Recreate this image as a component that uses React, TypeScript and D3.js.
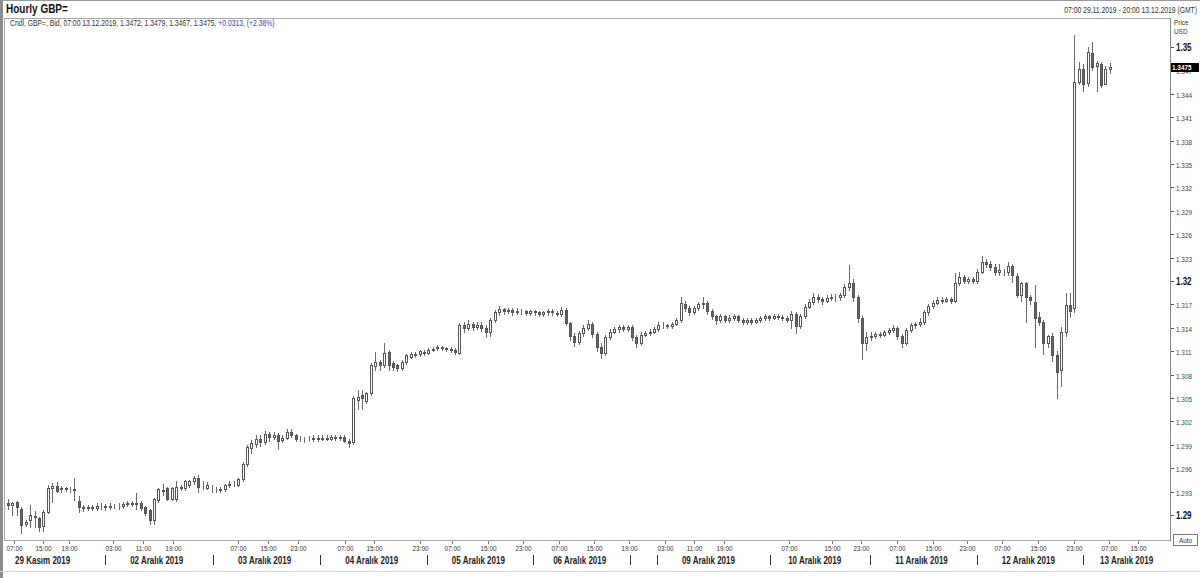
import React from 'react';
import * as d3 from 'd3';

const opens = [
  1.2916,1.2913,1.2917,1.2908,1.2888,1.2894,1.2899,1.2896,1.2886,1.2904,
  1.2935,1.2937,1.2933,1.2934,1.2933,1.2933,1.2918,1.2910,1.2909,1.2910,
  1.2909,1.2912,1.2911,1.2910,1.2911,1.2912,1.2911,1.2914,1.2915,1.2914,
  1.2916,1.2910,1.2906,1.2893,1.2919,1.2932,1.2934,1.2921,1.2920,1.2935,
  1.2934,1.2938,1.2943,1.2948,1.2938,1.2935,1.2935,1.2933,1.2933,1.2933,
  1.2938,1.2940,1.2939,1.2946,1.2966,1.2986,1.2991,1.2998,1.2994,1.3004,
  1.3000,1.3003,1.2996,1.2999,1.3006,1.3002,1.2997,1.2998,1.2997,1.2998,
  1.2999,1.2998,1.2999,1.2998,1.3000,1.2999,1.3000,1.2995,1.2993,1.3047,
  1.3054,1.3046,1.3056,1.3091,1.3096,1.3092,1.3109,1.3095,1.3092,1.3088,
  1.3096,1.3103,1.3105,1.3106,1.3109,1.3108,1.3112,1.3114,1.3115,1.3114,
  1.3113,1.3112,1.3108,1.3143,1.3140,1.3145,1.3141,1.3144,1.3140,1.3135,
  1.3150,1.3160,1.3164,1.3161,1.3163,1.3160,1.3162,1.3161,1.3159,1.3161,
  1.3160,1.3158,1.3160,1.3162,1.3159,1.3158,1.3163,1.3146,1.3130,1.3122,
  1.3133,1.3140,1.3145,1.3132,1.3115,1.3108,1.3128,1.3135,1.3138,1.3141,
  1.3139,1.3141,1.3128,1.3120,1.3131,1.3133,1.3135,1.3138,1.3144,1.3143,
  1.3142,1.3145,1.3150,1.3170,1.3165,1.3160,1.3165,1.3170,1.3172,1.3162,
  1.3155,1.3150,1.3155,1.3150,1.3153,1.3155,1.3150,1.3148,1.3150,1.3148,
  1.3150,1.3152,1.3155,1.3153,1.3155,1.3154,1.3152,1.3150,1.3158,1.3142,
  1.3155,1.3167,1.3173,1.3180,1.3177,1.3175,1.3178,1.3180,1.3179,1.3182,
  1.3192,1.3198,1.3180,1.3152,1.3120,1.3128,1.3130,1.3132,1.3131,1.3134,
  1.3137,1.3140,1.3130,1.3120,1.3137,1.3143,1.3145,1.3147,1.3160,1.3168,
  1.3172,1.3176,1.3175,1.3177,1.3175,1.3198,1.3205,1.3200,1.3202,1.3200,
  1.3212,1.3225,1.3222,1.3218,1.3212,1.3212,1.3211,1.3219,1.3207,1.3182,
  1.3197,1.3179,1.3173,1.3154,1.3147,1.3120,1.3130,1.3105,1.3086,1.3135,
  1.3169,1.3165,1.3455,1.3472,1.3454,1.3492,1.3476,1.3478,1.3453,1.3472,
];

const highs = [
  1.2920,1.2917,1.2918,1.2910,1.2893,1.2913,1.2905,1.2898,1.2906,1.2938,
  1.2941,1.2942,1.2937,1.2936,1.2936,1.2947,1.2924,1.2913,1.2913,1.2913,
  1.2915,1.2915,1.2914,1.2915,1.2914,1.2915,1.2917,1.2918,1.2918,1.2928,
  1.2918,1.2912,1.2908,1.2922,1.2935,1.2940,1.2936,1.2936,1.2943,1.2939,
  1.2945,1.2945,1.2950,1.2951,1.2943,1.2942,1.2938,1.2936,1.2936,1.2940,
  1.2943,1.2944,1.2948,1.2968,1.2990,1.2996,1.3002,1.3003,1.3008,1.3007,
  1.3006,1.3005,1.3002,1.3010,1.3010,1.3004,1.3001,1.3000,1.3001,1.3002,
  1.3002,1.3003,1.3002,1.3002,1.3002,1.3003,1.3002,1.2997,1.3053,1.3060,
  1.3060,1.3058,1.3095,1.3109,1.3099,1.3121,1.3112,1.3098,1.3094,1.3099,
  1.3107,1.3109,1.3109,1.3112,1.3112,1.3114,1.3116,1.3118,1.3117,1.3116,
  1.3115,1.3114,1.3146,1.3148,1.3150,1.3147,1.3147,1.3147,1.3143,1.3153,
  1.3163,1.3168,1.3166,1.3166,1.3165,1.3165,1.3164,1.3163,1.3163,1.3163,
  1.3162,1.3162,1.3164,1.3164,1.3162,1.3167,1.3165,1.3148,1.3133,1.3136,
  1.3143,1.3150,1.3147,1.3134,1.3120,1.3131,1.3138,1.3141,1.3144,1.3144,
  1.3144,1.3143,1.3131,1.3134,1.3136,1.3138,1.3141,1.3147,1.3147,1.3145,
  1.3148,1.3153,1.3180,1.3175,1.3168,1.3168,1.3173,1.3180,1.3174,1.3164,
  1.3157,1.3158,1.3157,1.3156,1.3158,1.3157,1.3153,1.3153,1.3152,1.3153,
  1.3155,1.3158,1.3157,1.3158,1.3158,1.3157,1.3155,1.3161,1.3160,1.3158,
  1.3170,1.3177,1.3185,1.3183,1.3180,1.3182,1.3183,1.3183,1.3185,1.3196,
  1.3220,1.3203,1.3182,1.3155,1.3135,1.3135,1.3135,1.3135,1.3137,1.3140,
  1.3143,1.3142,1.3132,1.3140,1.3146,1.3148,1.3152,1.3163,1.3171,1.3176,
  1.3179,1.3180,1.3180,1.3180,1.3210,1.3212,1.3208,1.3205,1.3205,1.3215,
  1.3232,1.3228,1.3226,1.3222,1.3222,1.3215,1.3224,1.3222,1.3210,1.3199,
  1.3199,1.3182,1.3195,1.3160,1.3150,1.3131,1.3133,1.3110,1.3141,1.3185,
  1.3185,1.3515,1.3481,1.3478,1.3500,1.3507,1.3482,1.3481,1.3476,1.3479,
];

const lows = [
  1.2908,1.2900,1.2900,1.2877,1.2886,1.2885,1.2885,1.2880,1.2880,1.2902,
  1.2917,1.2930,1.2930,1.2931,1.2930,1.2919,1.2904,1.2905,1.2906,1.2906,
  1.2907,1.2908,1.2907,1.2908,1.2909,1.2908,1.2909,1.2911,1.2911,1.2908,
  1.2906,1.2900,1.2889,1.2889,1.2917,1.2926,1.2919,1.2919,1.2918,1.2932,
  1.2932,1.2936,1.2940,1.2930,1.2933,1.2933,1.2930,1.2930,1.2930,1.2931,
  1.2936,1.2937,1.2937,1.2944,1.2963,1.2980,1.2987,1.2988,1.2991,1.2995,
  1.2997,1.2985,1.2993,1.2997,1.3000,1.2995,1.2995,1.2994,1.2995,1.2995,
  1.2995,1.2996,1.2996,1.2996,1.2996,1.2996,1.2993,1.2987,1.2991,1.3036,
  1.3036,1.3044,1.3054,1.3086,1.3086,1.3090,1.3086,1.3086,1.3085,1.3086,
  1.3094,1.3101,1.3102,1.3104,1.3105,1.3106,1.3110,1.3112,1.3111,1.3110,
  1.3109,1.3106,1.3106,1.3135,1.3137,1.3137,1.3138,1.3136,1.3128,1.3130,
  1.3148,1.3157,1.3158,1.3159,1.3157,1.3158,1.3158,1.3156,1.3157,1.3157,
  1.3155,1.3155,1.3157,1.3157,1.3155,1.3155,1.3143,1.3125,1.3117,1.3119,
  1.3130,1.3137,1.3128,1.3110,1.3101,1.3105,1.3126,1.3133,1.3135,1.3136,
  1.3136,1.3124,1.3115,1.3118,1.3129,1.3131,1.3133,1.3136,1.3140,1.3140,
  1.3140,1.3143,1.3148,1.3162,1.3157,1.3158,1.3163,1.3166,1.3158,1.3151,
  1.3145,1.3148,1.3147,1.3148,1.3150,1.3147,1.3145,1.3145,1.3145,1.3146,
  1.3148,1.3150,1.3150,1.3151,1.3151,1.3150,1.3147,1.3140,1.3133,1.3140,
  1.3153,1.3165,1.3170,1.3173,1.3171,1.3173,1.3176,1.3175,1.3176,1.3180,
  1.3189,1.3175,1.3148,1.3100,1.3112,1.3125,1.3127,1.3128,1.3129,1.3132,
  1.3135,1.3126,1.3115,1.3118,1.3135,1.3140,1.3142,1.3145,1.3157,1.3165,
  1.3170,1.3172,1.3173,1.3172,1.3173,1.3195,1.3197,1.3197,1.3197,1.3198,
  1.3210,1.3218,1.3214,1.3208,1.3208,1.3208,1.3208,1.3199,1.3180,1.3175,
  1.3147,1.3170,1.3115,1.3143,1.3107,1.3115,1.3098,1.3050,1.3066,1.3130,
  1.3154,1.3160,1.3452,1.3443,1.3450,1.3470,1.3443,1.3449,1.3452,1.3467,
];

const closes = [
  1.2913,1.2915,1.2910,1.2887,1.2891,1.2900,1.2897,1.2885,1.2904,1.2935,
  1.2937,1.2931,1.2934,1.2933,1.2933,1.2932,1.2910,1.2909,1.2910,1.2909,
  1.2912,1.2911,1.2910,1.2911,1.2912,1.2911,1.2914,1.2915,1.2914,1.2916,
  1.2909,1.2903,1.2893,1.2920,1.2933,1.2931,1.2921,1.2934,1.2936,1.2936,
  1.2943,1.2943,1.2947,1.2936,1.2939,1.2939,1.2934,1.2933,1.2932,1.2938,
  1.2940,1.2940,1.2946,1.2966,1.2987,1.2992,1.2998,1.2993,1.3004,1.3000,
  1.3003,1.2995,1.2999,1.3006,1.3003,1.2997,1.2998,1.2997,1.2998,1.2999,
  1.2998,1.2999,1.2998,1.3000,1.2999,1.3000,1.2995,1.2992,1.3050,1.3051,
  1.3050,1.3056,1.3092,1.3096,1.3092,1.3108,1.3092,1.3090,1.3088,1.3096,
  1.3105,1.3107,1.3106,1.3110,1.3108,1.3112,1.3113,1.3115,1.3114,1.3113,
  1.3112,1.3109,1.3143,1.3140,1.3145,1.3141,1.3144,1.3140,1.3135,1.3150,
  1.3160,1.3164,1.3161,1.3163,1.3160,1.3162,1.3161,1.3159,1.3161,1.3160,
  1.3158,1.3160,1.3162,1.3160,1.3158,1.3163,1.3146,1.3130,1.3122,1.3133,
  1.3140,1.3145,1.3132,1.3115,1.3108,1.3128,1.3135,1.3138,1.3141,1.3139,
  1.3141,1.3128,1.3120,1.3131,1.3133,1.3135,1.3138,1.3144,1.3143,1.3142,
  1.3145,1.3150,1.3172,1.3165,1.3160,1.3165,1.3170,1.3172,1.3162,1.3155,
  1.3150,1.3155,1.3150,1.3153,1.3155,1.3150,1.3148,1.3150,1.3148,1.3150,
  1.3152,1.3155,1.3153,1.3155,1.3154,1.3152,1.3150,1.3158,1.3142,1.3155,
  1.3167,1.3173,1.3180,1.3177,1.3175,1.3178,1.3180,1.3179,1.3182,1.3192,
  1.3198,1.3180,1.3152,1.3120,1.3128,1.3130,1.3132,1.3131,1.3134,1.3137,
  1.3140,1.3130,1.3120,1.3137,1.3143,1.3145,1.3147,1.3160,1.3168,1.3172,
  1.3176,1.3175,1.3177,1.3175,1.3198,1.3205,1.3200,1.3202,1.3200,1.3212,
  1.3225,1.3222,1.3218,1.3212,1.3214,1.3211,1.3219,1.3208,1.3182,1.3197,
  1.3180,1.3176,1.3152,1.3147,1.3120,1.3129,1.3105,1.3083,1.3135,1.3169,
  1.3162,1.3455,1.3472,1.3453,1.3493,1.3474,1.3480,1.3451,1.3472,1.3475,
];

const yTickValues = [
  1.29, 1.293, 1.296, 1.299, 1.302, 1.305, 1.308, 1.311, 1.314, 1.317, 1.32,
  1.323, 1.326, 1.329, 1.332, 1.335, 1.338, 1.341, 1.344, 1.347, 1.35,
];
const yMajorTicks = [1.29, 1.32, 1.35];

const timeTickIndex = [
  1.4, 7.9, 13.8, 23.7, 30.5, 37.3, 52, 58.8, 65.5, 76.2, 82.7, 93.1, 100.3,
  108.5, 116.4, 124.6, 132.4, 140.3, 148.5, 155, 161.8, 176.5, 186.2, 192.8,
  200.9, 209, 216.7, 224.6, 232.8, 240.9, 248.8, 255.4,
];
const timeTickLabels = [
  '07:00', '15:00', '19:00', '03:00', '11:00', '19:00', '07:00', '15:00', '23:00',
  '07:00', '15:00', '23:00', '07:00', '15:00', '23:00', '07:00', '15:00', '19:00',
  '03:00', '11:00', '19:00', '07:00', '15:00', '23:00', '07:00', '15:00', '23:00',
  '07:00', '15:00', '23:00', '07:00', '15:00',
];

const dayLabelIndex = [1.6, 27.6, 52, 76.2, 100.3, 123.2, 152.3, 176.3, 200.5, 224.6, 246.8];
const dayLabels = [
  '29 Kasım 2019', '02 Aralık 2019', '03 Aralık 2019', '04 Aralık 2019',
  '05 Aralık 2019', '06 Aralık 2019', '09 Aralık 2019', '10 Aralık 2019',
  '11 Aralık 2019', '12 Aralık 2019', '13 Aralık 2019',
];
const daySeparatorIndex = [21.9, 46.3, 70.5, 94.7, 118.6, 140.6, 146.7, 172.2, 194.8, 219, 242.9];

const titleText = 'Hourly GBP=';
const legendText = 'Cndl, GBP=, Bid, 07:00 13.12.2019, 1.3472, 1.3479, 1.3467, 1.3475, ';
const legendChange = '+0.0313, (+2.38%)';
const rangeText = '07:00 29.11.2019 - 20:00 13.12.2019 (GMT)';
const lastPrice = 1.3475;

const FONT = '"Liberation Sans", Arial, sans-serif';
const SX = 0.8;

function T(props: {
  x: number; y: number; size: number; weight?: string; fill?: string;
  anchor?: string; children: React.ReactNode;
}) {
  const { x, y, size, weight, fill, anchor, children } = props;
  return (
    <text
      transform={`translate(${x},${y}) scale(${SX},1)`}
      fontFamily={FONT}
      fontSize={size}
      fontWeight={weight || 'normal'}
      fill={fill || '#333'}
      textAnchor={anchor || 'start'}
    >
      {children}
    </text>
  );
}

export default function App() {
  const W = 1200;
  const H = 578;
  const plotLeft = 4;
  const plotRight = 1170;
  const plotTop = 18;
  const plotBottom = 540;
  const n = closes.length;

  const x = d3.scaleLinear().domain([0, n - 1]).range([8, 8 + 4.425 * (n - 1)]);
  const y = d3.scaleLinear().domain([1.29, 1.35]).range([515, 47]);

  const candles = d3.range(n).map((i) => {
    const o = opens[i];
    const c = closes[i];
    const up = c >= o;
    const cx = Math.round(x(i));
    const top = Math.round(y(Math.max(o, c))) + 0.5;
    const bot = Math.round(y(Math.min(o, c))) + 0.5;
    return (
      <g key={i}>
        <line
          x1={cx + 0.5} x2={cx + 0.5}
          y1={Math.round(y(highs[i]))} y2={Math.round(y(lows[i])) + 1}
          stroke="#6a6a6a" strokeWidth={1}
        />
        <rect
          x={cx - 0.5} y={top} width={2} height={Math.max(0, bot - top)}
          fill={up ? '#ffffff' : '#666666'} stroke="#555555" strokeWidth={1}
        />
      </g>
    );
  });

  return (
    <svg
      width={W}
      height={H}
      style={{ position: 'absolute', left: 0, top: 0, background: '#fff' }}
    >
      {/* outer frame */}
      <rect x={0} y={0} width={W} height={H} fill="#ffffff" />
      <line x1={0} x2={W} y1={0.5} y2={0.5} stroke="#9a9a9a" />
      <rect x={0} y={0} width={3} height={H} fill="#8c8c8c" />
      <line x1={0} x2={W} y1={571.5} y2={571.5} stroke="#d8d8d8" />

      {/* title and legend */}
      <T x={6} y={13} size={12.5} weight="bold" fill="#111">{titleText}</T>
      <T x={1197} y={13} size={8.5} anchor="end" fill="#333">{rangeText}</T>

      {/* plot frame */}
      <rect
        x={plotLeft + 0.5} y={plotTop + 0.5}
        width={plotRight - plotLeft} height={plotBottom - plotTop}
        fill="#ffffff" stroke="#a8a8a8"
      />
      <text
        transform={`translate(10,26) scale(${SX},1)`}
        fontFamily={FONT} fontSize={8.5} fill="#333"
      >
        {legendText}
        <tspan fill="#3b3bd0">{legendChange}</tspan>
      </text>

      {/* candles */}
      <g shapeRendering="crispEdges">{candles}</g>

      {/* right axis */}
      <line x1={plotRight + 0.5} x2={plotRight + 0.5} y1={plotTop} y2={plotBottom + 1} stroke="#8a8a8a" />
      <T x={1174} y={25} size={8} fill="#333">Price</T>
      <T x={1174} y={34} size={8} fill="#333">USD</T>
      {yTickValues.map((v) => {
        const major = yMajorTicks.includes(v);
        const ty = Math.round(y(v)) + 0.5;
        return (
          <g key={v}>
            <line x1={plotRight + 1} x2={plotRight + 4} y1={ty} y2={ty} stroke="#555" shapeRendering="crispEdges" />
            <T
              x={1176}
              y={ty + (major ? 3.5 : 3)}
              size={major ? 10 : 8}
              weight={major ? 'bold' : 'normal'}
              fill={major ? '#111' : '#444'}
            >
              {String(+v.toFixed(3))}
            </T>
          </g>
        );
      })}
      <rect x={plotRight + 1} y={Math.round(y(lastPrice)) - 4} width={28} height={9} fill="#000" />
      <T x={plotRight + 2} y={Math.round(y(lastPrice)) + 3} size={8} weight="bold" fill="#fff">
        {String(lastPrice)}
      </T>
      <rect x={1173.5} y={534.5} width={24} height={11} fill="#fff" stroke="#777" />
      <T x={1185.5} y={543} size={8} anchor="middle" fill="#333">Auto</T>

      {/* bottom axis */}
      {timeTickIndex.map((t, i) => {
        const tx = Math.round(x(t)) + 0.5;
        return (
          <g key={'t' + i}>
            <line x1={tx} x2={tx} y1={plotBottom + 1} y2={plotBottom + 4} stroke="#777" shapeRendering="crispEdges" />
            <T x={tx} y={551} size={8} anchor="middle" fill="#333">{timeTickLabels[i]}</T>
          </g>
        );
      })}
      {daySeparatorIndex.map((t, i) => {
        const sx = Math.round(x(t)) + 0.5;
        return (
          <line key={'s' + i} x1={sx} x2={sx} y1={555} y2={565} stroke="#333" shapeRendering="crispEdges" />
        );
      })}
      {dayLabelIndex.map((t, i) => (
        <T key={'d' + i} x={x(t)} y={564} size={10} weight="bold" fill="#222">
          {dayLabels[i]}
        </T>
      ))}
    </svg>
  );
}
